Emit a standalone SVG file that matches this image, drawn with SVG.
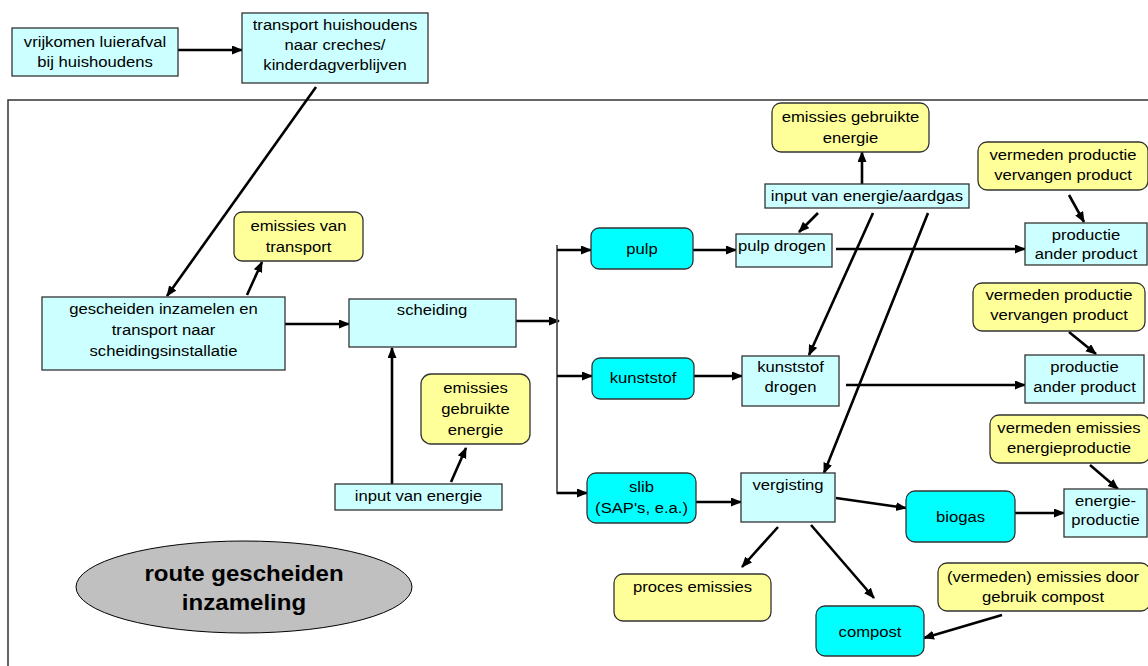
<svg xmlns="http://www.w3.org/2000/svg" width="1148" height="666" viewBox="0 0 1148 666">
  <defs>
    <marker id="ah" markerUnits="userSpaceOnUse" markerWidth="12" markerHeight="10" refX="10" refY="4.5" orient="auto">
      <path d="M0,0 L11,4.5 L0,9 z" fill="#000"/>
    </marker>
    <style>
      .box { fill:#CCFFFF; stroke:#333; stroke-width:1.3; }
      .cyan { fill:#00FFFF; stroke:#333; stroke-width:1.3; }
      .yel { fill:#FFFF99; stroke:#333; stroke-width:1.3; }
      .t { font-family:"Liberation Sans", Arial, sans-serif; font-size:15px; fill:#000; text-anchor:middle; }
      .tb { font-family:"Liberation Sans", Arial, sans-serif; font-size:21.5px; font-weight:bold; fill:#000; text-anchor:middle; }
      .a { stroke:#000; stroke-width:2.6; fill:none; marker-end:url(#ah); }
      .bus { stroke:#555; stroke-width:1.8; fill:none; }
    </style>
  </defs>

  <rect width="1148" height="666" fill="#fff"/>

  <!-- frame around the separate-collection route -->
  <rect x="8" y="100" width="1160" height="600" fill="none" stroke="#333" stroke-width="1.5"/>

  <!-- connectors -->
  <g id="connectors">
    <line class="a" x1="178" y1="50" x2="242" y2="50"/>
    <line class="a" x1="316" y1="87" x2="167" y2="296"/>
    <line class="a" x1="247" y1="295" x2="262" y2="262"/>
    <line class="a" x1="285" y1="324" x2="349" y2="324"/>
    <line class="a" x1="392" y1="484" x2="392" y2="348"/>
    <line class="a" x1="451" y1="482" x2="466" y2="448"/>
    <line class="a" x1="516" y1="321" x2="559" y2="321"/>
    <line class="bus" x1="557" y1="245" x2="557" y2="494"/>
    <line class="a" x1="557" y1="250" x2="591" y2="250"/>
    <line class="a" x1="557" y1="376" x2="592" y2="376"/>
    <line class="a" x1="557" y1="493" x2="587" y2="493"/>
    <line class="a" x1="693" y1="250" x2="736" y2="250"/>
    <line class="a" x1="694" y1="376" x2="742" y2="376"/>
    <line class="a" x1="696" y1="502" x2="741" y2="502"/>
    <line class="a" x1="862" y1="186" x2="862" y2="152"/>
    <line class="a" x1="818" y1="213" x2="799" y2="232"/>
    <line class="a" x1="873" y1="213" x2="809" y2="355"/>
    <line class="a" x1="928" y1="213" x2="824" y2="473"/>
    <line class="a" x1="836" y1="249" x2="1025" y2="249"/>
    <line class="a" x1="846" y1="385" x2="1025" y2="385"/>
    <line class="a" x1="1069" y1="195" x2="1084" y2="222"/>
    <line class="a" x1="1069" y1="332" x2="1096" y2="354"/>
    <line class="a" x1="1090" y1="465" x2="1118" y2="489"/>
    <line class="a" x1="836" y1="498" x2="906" y2="508"/>
    <line class="a" x1="1015" y1="513" x2="1064" y2="513"/>
    <line class="a" x1="778" y1="527" x2="742" y2="567"/>
    <line class="a" x1="811" y1="525" x2="874" y2="598"/>
    <line class="a" x1="1002" y1="615" x2="924" y2="638"/>
  </g>

  <g id="vrijkomen">
    <rect class="box" x="12" y="28" width="166" height="48"/>
    <text class="t" transform="translate(95 0) scale(1.11 1)"><tspan x="0" y="47">vrijkomen luierafval</tspan><tspan x="0" y="67">bij huishoudens</tspan></text>
  </g>

  <g id="transport-huishoudens">
    <rect class="box" x="242" y="13" width="186" height="70"/>
    <text class="t" transform="translate(335 0) scale(1.11 1)"><tspan x="0" y="30">transport huishoudens</tspan><tspan x="0" y="50">naar creches/</tspan><tspan x="0" y="70">kinderdagverblijven</tspan></text>
  </g>

  <g id="emissies-transport">
    <rect class="yel" x="234" y="212" width="129" height="49" rx="8"/>
    <text class="t" transform="translate(298.5 0) scale(1.11 1)"><tspan x="0" y="231">emissies van</tspan><tspan x="0" y="252">transport</tspan></text>
  </g>

  <g id="gescheiden-inzamelen">
    <rect class="box" x="42" y="297" width="243" height="73"/>
    <text class="t" transform="translate(163.5 0) scale(1.11 1)"><tspan x="0" y="314">gescheiden inzamelen en</tspan><tspan x="0" y="335">transport naar</tspan><tspan x="0" y="356">scheidingsinstallatie</tspan></text>
  </g>

  <g id="scheiding">
    <rect class="box" x="349" y="299" width="167" height="48"/>
    <text class="t" transform="translate(432 0) scale(1.11 1)"><tspan x="0" y="315">scheiding</tspan></text>
  </g>

  <g id="emissies-energie-links">
    <rect class="yel" x="421" y="374" width="109" height="70" rx="10"/>
    <text class="t" transform="translate(475.5 0) scale(1.11 1)"><tspan x="0" y="393">emissies</tspan><tspan x="0" y="414">gebruikte</tspan><tspan x="0" y="435">energie</tspan></text>
  </g>

  <g id="input-energie">
    <rect class="box" x="335" y="484" width="167" height="26"/>
    <text class="t" transform="translate(418.5 0) scale(1.11 1)"><tspan x="0" y="501">input van energie</tspan></text>
  </g>

  <g id="route-label">
    <ellipse cx="244" cy="587" rx="168" ry="46" fill="#C0C0C0" stroke="#000" stroke-width="1"/>
    <text class="tb" transform="translate(244 0) scale(1.12 1)"><tspan x="0" y="581">route gescheiden</tspan><tspan x="0" y="610">inzameling</tspan></text>
  </g>

  <g id="pulp">
    <rect class="cyan" x="591" y="228" width="102" height="41" rx="8"/>
    <text class="t" transform="translate(642 0) scale(1.11 1)"><tspan x="0" y="254">pulp</tspan></text>
  </g>

  <g id="pulp-drogen">
    <rect class="box" x="736" y="234" width="96" height="33"/>
    <text class="t" style="text-anchor:start" transform="translate(738 0) scale(1.11 1)"><tspan x="0" y="251">pulp drogen</tspan></text>
  </g>

  <g id="input-aardgas">
    <rect class="box" x="765" y="184" width="204" height="24"/>
    <text class="t" transform="translate(867 0) scale(1.11 1)"><tspan x="0" y="201">input van energie/aardgas</tspan></text>
  </g>

  <g id="emissies-energie-boven">
    <rect class="yel" x="772" y="103" width="157" height="49" rx="9"/>
    <text class="t" transform="translate(850.5 0) scale(1.11 1)"><tspan x="0" y="122">emissies gebruikte</tspan><tspan x="0" y="143">energie</tspan></text>
  </g>

  <g id="vermeden-productie-1">
    <rect class="yel" x="978" y="142" width="170" height="48" rx="9"/>
    <text class="t" transform="translate(1063 0) scale(1.11 1)"><tspan x="0" y="160">vermeden productie</tspan><tspan x="0" y="180">vervangen product</tspan></text>
  </g>

  <g id="productie-1">
    <rect class="box" x="1025" y="223" width="122" height="42"/>
    <text class="t" transform="translate(1086 0) scale(1.11 1)"><tspan x="0" y="240">productie</tspan><tspan x="0" y="259">ander product</tspan></text>
  </g>

  <g id="kunststof">
    <rect class="cyan" x="592" y="358" width="102" height="41" rx="8"/>
    <text class="t" transform="translate(643 0) scale(1.11 1)"><tspan x="0" y="383">kunststof</tspan></text>
  </g>

  <g id="kunststof-drogen">
    <rect class="box" x="742" y="356" width="97" height="50"/>
    <text class="t" transform="translate(790.5 0) scale(1.11 1)"><tspan x="0" y="372">kunststof</tspan><tspan x="0" y="392">drogen</tspan></text>
  </g>

  <g id="vermeden-productie-2">
    <rect class="yel" x="973" y="283" width="172" height="48" rx="9"/>
    <text class="t" transform="translate(1059 0) scale(1.11 1)"><tspan x="0" y="300">vermeden productie</tspan><tspan x="0" y="320">vervangen product</tspan></text>
  </g>

  <g id="productie-2">
    <rect class="box" x="1025" y="355" width="119" height="48"/>
    <text class="t" transform="translate(1084.5 0) scale(1.11 1)"><tspan x="0" y="372">productie</tspan><tspan x="0" y="392">ander product</tspan></text>
  </g>

  <g id="vermeden-emissies-energie">
    <rect class="yel" x="990" y="415" width="160" height="48" rx="9"/>
    <text class="t" transform="translate(1069 0) scale(1.11 1)"><tspan x="0" y="433">vermeden emissies</tspan><tspan x="0" y="453">energieproductie</tspan></text>
  </g>

  <g id="slib">
    <rect class="cyan" x="587" y="473" width="109" height="50" rx="9"/>
    <text class="t" transform="translate(641.5 0) scale(1.11 1)"><tspan x="0" y="492">slib</tspan><tspan x="0" y="513">(SAP's, e.a.)</tspan></text>
  </g>

  <g id="vergisting">
    <rect class="box" x="741" y="473" width="94" height="49"/>
    <text class="t" transform="translate(788 0) scale(1.11 1)"><tspan x="0" y="490">vergisting</tspan></text>
  </g>

  <g id="biogas">
    <rect class="cyan" x="906" y="491" width="109" height="51" rx="9"/>
    <text class="t" transform="translate(960.5 0) scale(1.11 1)"><tspan x="0" y="522">biogas</tspan></text>
  </g>

  <g id="energieproductie">
    <rect class="box" x="1064" y="489" width="83" height="48"/>
    <text class="t" transform="translate(1105.5 0) scale(1.11 1)"><tspan x="0" y="506">energie-</tspan><tspan x="0" y="525">productie</tspan></text>
  </g>

  <g id="proces-emissies">
    <rect class="yel" x="614" y="574" width="157" height="47" rx="9"/>
    <text class="t" transform="translate(692.5 0) scale(1.11 1)"><tspan x="0" y="592">proces emissies</tspan></text>
  </g>

  <g id="compost">
    <rect class="cyan" x="816" y="606" width="108" height="50" rx="9"/>
    <text class="t" transform="translate(870 0) scale(1.11 1)"><tspan x="0" y="637">compost</tspan></text>
  </g>

  <g id="emissies-compost">
    <rect class="yel" x="938" y="563" width="212" height="48" rx="9"/>
    <text class="t" transform="translate(1043 0) scale(1.11 1)"><tspan x="0" y="582">(vermeden) emissies door</tspan><tspan x="0" y="602">gebruik compost</tspan></text>
  </g>
</svg>
